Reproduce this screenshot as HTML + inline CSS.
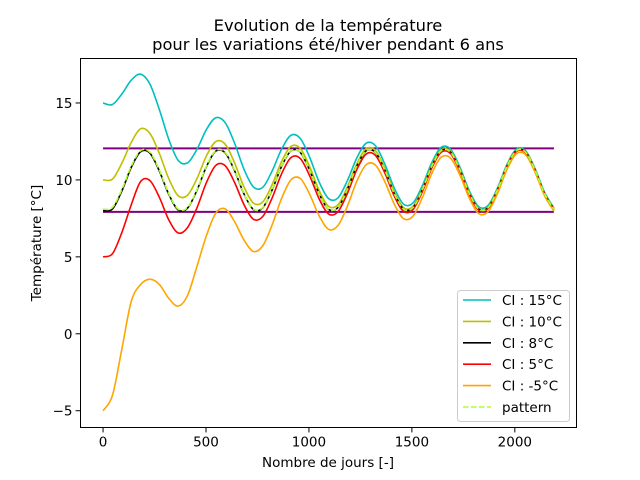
<!DOCTYPE html>
<html><head><meta charset="utf-8"><style>
html,body{margin:0;padding:0;background:#fff;}
svg{display:block;font-family:"DejaVu Sans","Liberation Sans",sans-serif;}
</style></head><body>
<svg id="chart" width="640" height="480" viewBox="0 0 640 480">
<rect x="0" y="0" width="640" height="480" fill="#fff"/>
<text x="328" y="31" text-anchor="middle" font-size="16.3">Evolution de la température</text>
<text x="328" y="50" text-anchor="middle" font-size="16.3">pour les variations été/hiver pendant 6 ans</text>
<g id="plot"></g>
<rect x="80.5" y="58.5" width="496" height="369" fill="none" stroke="#000" stroke-width="1"/>
<g id="axes"></g>
<text x="328" y="467" text-anchor="middle" font-size="13.5">Nombre de jours [-]</text>
<text transform="translate(41,243) rotate(-90)" text-anchor="middle" font-size="13.5">Température [°C]</text>
<g id="legend"></g>
</svg>
<script>
const step = 45.625;
const cyan15 = [15.00,14.90,15.58,16.48,16.87,16.21,14.56,12.63,11.27,11.11,11.99,13.27,14.04,13.72,12.39,10.70,9.55,9.52,10.58,11.99,12.90,12.69,11.46,9.87,8.79,8.83,9.94,11.41,12.38,12.22,11.02,9.47,8.42,8.51,9.64,11.13,12.12,11.99,10.81,9.28,8.25,8.35,9.49,11.00,12.00,11.88,10.71,9.19,8.17];
const yellow10 = [10.00,10.05,11.08,12.43,13.32,13.01,11.71,10.08,8.97,9.01,10.09,11.55,12.49,12.32,11.11,9.55,8.50,8.57,9.70,11.19,12.18,12.04,10.86,9.32,8.29,8.38,9.53,11.03,12.03,11.91,10.74,9.21,8.19,8.29,9.44,10.96,11.96,11.85,10.68,9.16,8.14,8.25,9.40,10.92,11.93,11.81,10.65,9.13,8.12];
const black8 = [8.00,8.11,9.28,10.81,11.83,11.73,10.57,9.06,8.05,8.17,9.33,10.86,11.87,11.76,10.60,9.09,8.08,8.19,9.35,10.87,11.89,11.78,10.62,9.10,8.09,8.20,9.36,10.88,11.89,11.78,10.62,9.10,8.10,8.21,9.37,10.89,11.90,11.79,10.63,9.11,8.10,8.21,9.37,10.89,11.90,11.79,10.63,9.11,8.10];
const red5 = [5.00,5.20,6.58,8.38,9.90,9.95,8.86,7.40,6.55,6.91,8.19,9.82,10.94,10.92,9.84,8.40,7.45,7.62,8.83,10.39,11.45,11.39,10.26,8.77,7.79,7.93,9.11,10.65,11.68,11.59,10.45,8.95,7.95,8.08,9.25,10.78,11.80,11.70,10.55,9.04,8.03,8.15,9.31,10.84,11.85,11.75,10.59,9.08,8.07];
const orangeM5 = [-5.00,-4.00,-1.00,2.10,3.20,3.55,3.20,2.30,1.80,2.50,4.39,6.37,7.84,8.12,7.29,6.10,5.35,5.72,7.08,8.79,10.00,10.09,9.06,7.67,6.79,7.03,8.28,9.89,10.98,10.96,9.88,8.43,7.48,7.65,8.86,10.43,11.48,11.41,10.29,8.80,7.81,7.95,9.13,10.68,11.70,11.62,10.47,8.97,7.97];
const pattern = [8.10,8.21,9.37,10.89,11.90,11.79,10.63,9.11,8.10,8.21,9.37,10.89,11.90,11.79,10.63,9.11,8.10,8.21,9.37,10.89,11.90,11.79,10.63,9.11,8.10,8.21,9.37,10.89,11.90,11.79,10.63,9.11,8.10,8.21,9.37,10.89,11.90,11.79,10.63,9.11,8.10,8.21,9.37,10.89,11.90,11.79,10.63,9.11,8.10];
const limitLevels = [12.05, 7.92];
const limitRange = [0, 2190];
const xTicks = [0, 500, 1000, 1500, 2000];
const yTicks = [-5, 0, 5, 10, 15];
const legendLabels = ["CI : 15°C","CI : 10°C","CI : 8°C","CI : 5°C","CI : -5°C","pattern"];

const NS = "http://www.w3.org/2000/svg";
const X0=80.5, X1=576.5, Y0=58.5, Y1=427.5;
const xMin=-109.5, xMax=2299.5, yMin=-6.09, yMax=17.89;
function sx(t){return X0+(t-xMin)/(xMax-xMin)*(X1-X0);}
function sy(v){return Y1-(v-yMin)/(yMax-yMin)*(Y1-Y0);}
function mk(tag,attrs,parent){const e=document.createElementNS(NS,tag);for(const k in attrs)e.setAttribute(k,attrs[k]);parent.appendChild(e);return e;}
function smoothPath(vals){
  const p=vals.map((v,i)=>[sx(i*step),sy(v)]);
  let d="M"+p[0][0].toFixed(2)+","+p[0][1].toFixed(2);
  for(let i=0;i<p.length-1;i++){
    const a=p[Math.max(0,i-1)],b=p[i],c=p[i+1],e=p[Math.min(p.length-1,i+2)];
    const c1=[b[0]+(c[0]-a[0])/6,b[1]+(c[1]-a[1])/6];
    const c2=[c[0]-(e[0]-b[0])/6,c[1]-(e[1]-b[1])/6];
    d+="C"+c1[0].toFixed(2)+","+c1[1].toFixed(2)+" "+c2[0].toFixed(2)+","+c2[1].toFixed(2)+" "+c[0].toFixed(2)+","+c[1].toFixed(2);
  }
  return d;
}
const plot=document.getElementById("plot");
limitLevels.forEach((lv,i)=>{
  const l=mk("line",{x1:sx(limitRange[0]),x2:sx(limitRange[1]),y1:sy(lv),y2:sy(lv),stroke:"#800080","stroke-width":2},plot);
  
  
});
const series=[[cyan15,"#00bfbf","series-ci-15"],[yellow10,"#bfbf00","series-ci-10"],[black8,"#000000","series-ci-8"],[red5,"#ff0000","series-ci-5"],[orangeM5,"#ffa500","series-ci-minus-5"]];
series.forEach(s=>{
  const p=mk("path",{d:smoothPath(s[0]),fill:"none",stroke:s[1],"stroke-width":1.6},plot);
  
  
});
const pp=mk("path",{d:smoothPath(pattern),fill:"none",stroke:"#adff2f","stroke-width":1.6,"stroke-dasharray":"5.5,2.5"},plot);



const axes=document.getElementById("axes");
xTicks.forEach(t=>{
  const x=sx(t);
  const l=mk("line",{x1:x,x2:x,y1:Y1,y2:Y1+4.9,stroke:"#000","stroke-width":1},axes);
  
  
  const tx=mk("text",{x:x,y:Y1+19,"text-anchor":"middle","font-size":13.5},axes);
  tx.textContent=t;
  
  
});
yTicks.forEach(v=>{
  const y=sy(v);
  const l=mk("line",{x1:X0-4.9,x2:X0,y1:y,y2:y,stroke:"#000","stroke-width":1},axes);
  
  
  const tx=mk("text",{x:X0-8,y:y+5,"text-anchor":"end","font-size":13.5},axes);
  tx.textContent=(v<0?"\u2212"+Math.abs(v):v);
  
  
});

const lg=document.getElementById("legend");
const box=mk("rect",{x:457.5,y:290.5,width:112,height:131,rx:3,fill:"#fff","fill-opacity":0.8,stroke:"#ccc","stroke-width":1},lg);


const lcolors=["#00bfbf","#bfbf00","#000000","#ff0000","#ffa500","#adff2f"];
legendLabels.forEach((lab,i)=>{
  const y=300+i*21.4;
  const g=mk("g",{},lg);
  
  
  const at={x1:463,x2:491,y1:y,y2:y,stroke:lcolors[i],"stroke-width":1.6};
  if(i===5)at["stroke-dasharray"]="5.5,2.5";
  mk("line",at,g);
  const tx=mk("text",{x:502,y:y+5,"font-size":13.5},g);
  tx.textContent=lab;
});
</script>
</body></html>
